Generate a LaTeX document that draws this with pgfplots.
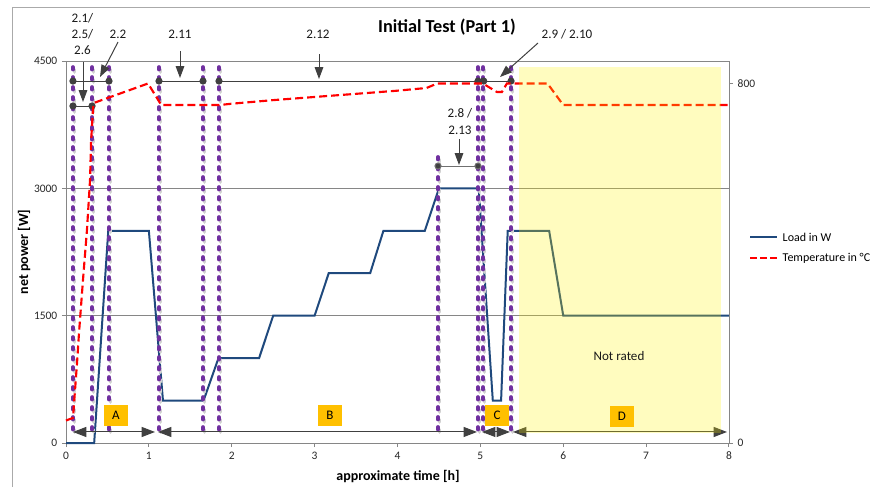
\documentclass[border=0pt]{standalone}
\usepackage{fontspec}
\setmainfont{Carlito}
\usepackage{pgfplots}
\pgfplotsset{compat=1.18}
\usetikzlibrary{arrows.meta}

\definecolor{loadblue}{RGB}{31,73,125}
\definecolor{purp}{RGB}{112,48,160}
\definecolor{dimgray}{RGB}{64,64,64}
\definecolor{gridgray}{RGB}{134,134,134}
\definecolor{framegray}{RGB}{170,170,170}
\definecolor{orng}{RGB}{255,192,0}

\pgfplotsset{
  base/.style={scale only axis, width=497.25pt, height=286.5pt,
    at={(49.5pt,-332.25pt)}, anchor=south west, xmin=0, xmax=8, clip=false,
    tick align=outside, major tick length=3pt,
    /pgf/number format/assume math mode=true,
    /pgf/number format/1000 sep={},
    ticklabel style={font=\fontsize{8.6}{10}\selectfont, text=black!85},
    tick style={gridgray, line width=0.75pt},
    axis line style={gridgray, line width=0.75pt}},
  purpleline/.style={purp, line width=2.8pt, line cap=round,
    dash pattern=on 1.9pt off 5.6pt},
  shadowline/.style={black!18, line width=2.8pt, line cap=round,
    dash pattern=on 1.9pt off 5.6pt},
  dimline/.style={dimgray, line width=0.75pt, mark=*, mark size=2.3pt,
    mark options={solid, fill=dimgray}},
}
\tikzset{
  tri/.tip={Triangle[length=10pt, width=7.5pt]},
  annarrow/.style={dimgray, line width=0.75pt, -{Triangle[length=9pt, width=6.5pt]}},
  lab/.style={fill=orng, minimum width=18pt, minimum height=15.75pt, inner sep=0pt,
    font=\fontsize{9.8}{11}\selectfont},
  ann/.style={font=\fontsize{9.8}{11.5}\selectfont, text=black!90},
}

\begin{document}
\begin{tikzpicture}[x=0.75pt,y=-0.75pt]
\useasboundingbox (0,0) rectangle (870,487);
\draw[framegray, line width=0.75pt] (12,487) -- (12,7) -- (870,7);

% primary axis: load
\begin{axis}[base, ymin=0, ymax=4500, ytick={0,1500,3000,4500}, xtick={0,...,8},
  axis x line*=bottom, axis y line*=left,
  ymajorgrids, grid style={gridgray, line width=0.75pt}]
\addplot[loadblue, line width=1.5pt] coordinates {
 (0,0) (0.34,0) (0.51,2500) (1.0,2500) (1.17,500) (1.66,500) (1.84,1000)
 (2.33,1000) (2.5,1500) (3.0,1500) (3.17,2000) (3.67,2000) (3.83,2500)
 (4.33,2500) (4.5,3000) (4.98,3000) (5.15,500) (5.25,500) (5.33,2500)
 (5.83,2500) (6.0,1500) (8,1500)};
% test step boundaries
\foreach \xx in {0.084,0.314,0.519,1.122,1.653,1.846,4.971,5.032,5.37} {
  \edef\temp{\noexpand\addplot[shadowline] coordinates {(\xx+0.018,4400) (\xx+0.018,45)};
    \noexpand\addplot[purpleline] coordinates {(\xx,4429) (\xx,71)};}
  \temp
}
\addplot[shadowline] coordinates {(4.507,3340) (4.507,130)};
\addplot[purpleline] coordinates {(4.489,3370) (4.489,150)};
% dimension lines
\addplot[dimline] coordinates {(0.084,4264) (0.519,4264)};
\addplot[dimline] coordinates {(1.122,4264) (1.653,4264)};
\addplot[dimline] coordinates {(1.846,4264) (4.971,4264) (5.04,4264) (5.37,4264)};
\addplot[dimline] coordinates {(0.084,3970) (0.314,3970)};
\addplot[dimline, dimgray!75] coordinates {(4.489,3263) (4.971,3263)};
\draw[dimgray, line width=0.75pt, tri-tri] (axis cs:0.084,130) -- (axis cs:1.074,130);
\draw[dimgray, line width=0.75pt, tri-tri] (axis cs:1.110,130) -- (axis cs:4.959,130);
\draw[dimgray, line width=0.75pt, tri-tri] (axis cs:5.020,130) -- (axis cs:5.357,130);
\draw[dimgray, line width=0.75pt, tri-tri] (axis cs:5.394,130) -- (axis cs:7.976,130);
\end{axis}

% secondary axis: temperature
\begin{axis}[base, ymin=0, ymax=850, ytick={0,800},
  axis y line*=right, axis x line=none]
\addplot[red, line width=1.6pt, dash pattern=on 6pt off 3pt] coordinates {
 (0,50) (0.084,56) (0.133,178) (0.157,245) (0.205,363) (0.253,474) (0.29,585)
 (0.302,668) (0.326,745) (0.34,757) (0.99,800) (1.15,752) (1.85,752) (2.0,755)
 (2.5,763) (3.0,770) (3.5,777) (4.0,784) (4.35,790) (4.48,800) (5.03,800)
 (5.2,781) (5.26,781) (5.32,800) (5.81,800) (6.0,752) (8,752)};
\fill[yellow, fill opacity=0.25] (axis cs:5.466,22) rectangle (axis cs:7.903,837);
\end{axis}

% labels
\node[font=\bfseries\fontsize{13.7}{16}\selectfont] at (447,27) {Initial Test (Part 1)};
\node[font=\bfseries\fontsize{10.5}{12}\selectfont] at (398,476) {approximate time [h]};
\node[font=\bfseries\fontsize{10.5}{12}\selectfont, rotate=90] at (24,252) {net power [W]};

% annotations
\node[ann] at (82.5,18) {2.1/};
\node[ann] at (82.5,34) {2.5/};
\node[ann] at (82.5,50) {2.6};
\node[ann] at (118,34) {2.2};
\node[ann] at (180,34) {2.11};
\node[ann] at (318,34) {2.12};
\node[ann] at (567,34) {2.9 / 2.10};
\node[ann] at (460,113) {2.8 /};
\node[ann] at (460,130) {2.13};
\draw[annarrow] (83,62) -- (83,102);
\draw[annarrow] (118,42) -- (100,77);
\draw[annarrow] (180,51) -- (180,78);
\draw[annarrow] (319,54) -- (319,79);
\draw[annarrow] (538,43) -- (500,77);
\draw[annarrow] (459,139) -- (459,165);

\node[lab] at (116,415.5) {A};
\node[lab] at (330,415.5) {B};
\node[lab] at (497,415.5) {C};
\node[lab] at (622,416.5) {D};
\node[ann] at (619,356) {Not rated};

% legend
\draw[loadblue, line width=1.5pt] (750,237) -- (777,237);
\node[anchor=west, font=\fontsize{9}{11}\selectfont] at (778,237) {Load in W};
\draw[red, line width=1.6pt, dash pattern=on 5pt off 2.5pt] (750,258) -- (777,258);
\node[anchor=west, font=\fontsize{9}{11}\selectfont] at (778,258) {Temperature in °C};
\end{tikzpicture}
\end{document}
